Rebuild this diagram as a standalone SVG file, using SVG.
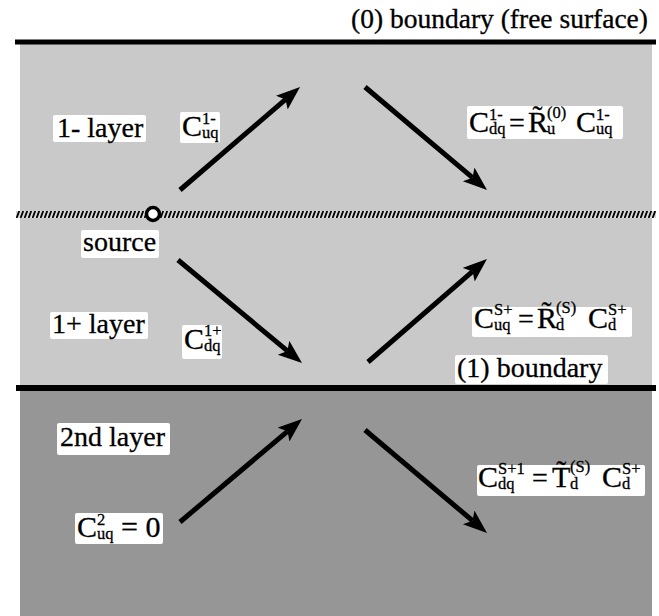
<svg xmlns="http://www.w3.org/2000/svg" width="659" height="616" viewBox="0 0 659 616">
  <defs>
    <style>
      .lbl { font-size: 28px; }
      .big { font-size: 30px; }
      .eq { font-size: 28px; }
      .sm { font-size: 16.5px; }
      .title { font-size: 27.5px; }
      .box { fill: #fff; stroke: none; }
      .arrow { stroke: #000; stroke-width: 5; fill: none; marker-end: url(#head); }
      .bound { stroke: #000; stroke-width: 6; }
    </style>
    <marker id="head" markerUnits="userSpaceOnUse" markerWidth="26" markerHeight="20" refX="5" refY="9" orient="auto" viewBox="0 0 26 20">
      <path d="M0,0 L24,9 L0,18 L5,9 z" fill="#000"/>
    </marker>
    <pattern id="hatch" patternUnits="userSpaceOnUse" width="4" height="7" x="0" y="211">
      <rect width="4" height="7" fill="#d8d8d8"/>
      <path d="M0.6,7 L3.2,0" stroke="#000" stroke-width="1.8"/>
    </pattern>
  </defs>

  <!-- layers -->
  <g id="layers">
    <rect x="20" y="44" width="632" height="343" fill="#c9c9c9"/>
    <rect x="20" y="390" width="632" height="226" fill="#969696"/>
  </g>

  <!-- boundaries -->
  <g id="boundaries">
    <line class="bound" x1="15" y1="42" x2="656" y2="42" style="stroke-width:5"/>
    <rect x="16" y="211" width="640" height="7" fill="url(#hatch)"/>
    <line class="bound" x1="16" y1="388" x2="656" y2="388"/>
  </g>

  <!-- connectors -->
  <g id="connectors">
    <line class="arrow" x1="180" y1="190" x2="285.6" y2="99.4"/>
    <line class="arrow" x1="365" y1="87" x2="472.5" y2="177.7"/>
    <line class="arrow" x1="178" y1="260" x2="287.4" y2="350.9"/>
    <line class="arrow" x1="368" y1="362" x2="472.6" y2="271.4"/>
    <line class="arrow" x1="180" y1="522" x2="287.5" y2="431.3"/>
    <line class="arrow" x1="365" y1="430" x2="472.5" y2="520.7"/>
  </g>

  <g font-family="'Liberation Serif', 'Times New Roman', 'DejaVu Serif', serif" fill="#000" stroke="#000" stroke-width="0.3">
  <g id="source">
    <circle cx="153" cy="214" r="6.5" fill="#fff" stroke="#000" stroke-width="3.5"/>
    <rect class="box" x="81" y="230" width="78" height="28" rx="2"/>
    <text class="lbl" x="83" y="251">source</text>
  </g>

  <g id="title">
    <text class="title" x="351" y="28">(0) boundary (free surface)</text>
  </g>

  <g id="layer1minus">
    <rect class="box" x="53" y="115" width="93" height="27" rx="2"/>
    <text class="lbl" x="57" y="137">1- layer</text>
  </g>

  <g id="c1uq">
    <rect class="box" x="180" y="112" width="40" height="31" rx="2"/>
    <text class="big" x="182" y="136">C</text>
    <text class="sm" x="202" y="124">1-</text>
    <text class="sm" x="202" y="138">uq</text>
  </g>

  <g id="eq-reflect-top">
    <rect class="box" x="467" y="106" width="156" height="33" rx="2"/>
    <text class="big" x="469" y="132">C</text>
    <text class="sm" x="489" y="120">1-</text>
    <text class="sm" x="489" y="134">dq</text>
    <text class="eq" x="509" y="132">=</text>
    <text class="big" x="528" y="132">R̃</text>
    <text class="sm" x="547" y="118">(0)</text>
    <text class="sm" x="547" y="134">u</text>
    <text class="big" x="576" y="132">C</text>
    <text class="sm" x="596" y="120">1-</text>
    <text class="sm" x="596" y="134">uq</text>
  </g>

  <g id="layer1plus">
    <rect class="box" x="50" y="312" width="98" height="27" rx="2"/>
    <text class="lbl" x="52" y="333">1+ layer</text>
  </g>

  <g id="c1dq">
    <rect class="box" x="182" y="325" width="40" height="34" rx="2"/>
    <text class="big" x="184" y="349">C</text>
    <text class="sm" x="204" y="336">1+</text>
    <text class="sm" x="204" y="351">dq</text>
  </g>

  <g id="eq-reflect-source">
    <rect class="box" x="472" y="307" width="160" height="30" rx="2"/>
    <text class="big" x="474" y="328">C</text>
    <text class="sm" x="494" y="315">S+</text>
    <text class="sm" x="494" y="330">uq</text>
    <text class="eq" x="518" y="328">=</text>
    <text class="big" x="537" y="328">R̃</text>
    <text class="sm" x="556" y="313">(S)</text>
    <text class="sm" x="556" y="330">d</text>
    <text class="big" x="588" y="328">C</text>
    <text class="sm" x="608" y="315">S+</text>
    <text class="sm" x="608" y="330">d</text>
  </g>

  <g id="boundary1">
    <rect class="box" x="455" y="355" width="153" height="29" rx="2"/>
    <text class="lbl" x="457" y="377">(1) boundary</text>
  </g>

  <g id="layer2">
    <rect class="box" x="57" y="423" width="113" height="32" rx="2"/>
    <text class="lbl" x="60" y="446">2nd layer</text>
  </g>

  <g id="c2uq">
    <rect class="box" x="75" y="513" width="88" height="31" rx="2"/>
    <text class="big" x="77" y="537">C</text>
    <text class="sm" x="97" y="525">2</text>
    <text class="sm" x="97" y="539">uq</text>
    <text class="big" x="121" y="537">= 0</text>
  </g>

  <g id="eq-transmit">
    <rect class="box" x="477" y="465" width="168" height="31" rx="2"/>
    <text class="big" x="478" y="487">C</text>
    <text class="sm" x="498" y="474">S+1</text>
    <text class="sm" x="498" y="489">dq</text>
    <text class="eq" x="532" y="487">=</text>
    <text class="big" x="552" y="487">T̃</text>
    <text class="sm" x="570" y="472">(S)</text>
    <text class="sm" x="570" y="489">d</text>
    <text class="big" x="602" y="487">C</text>
    <text class="sm" x="622" y="474">S+</text>
    <text class="sm" x="622" y="489">d</text>
  </g>
  </g>
</svg>
